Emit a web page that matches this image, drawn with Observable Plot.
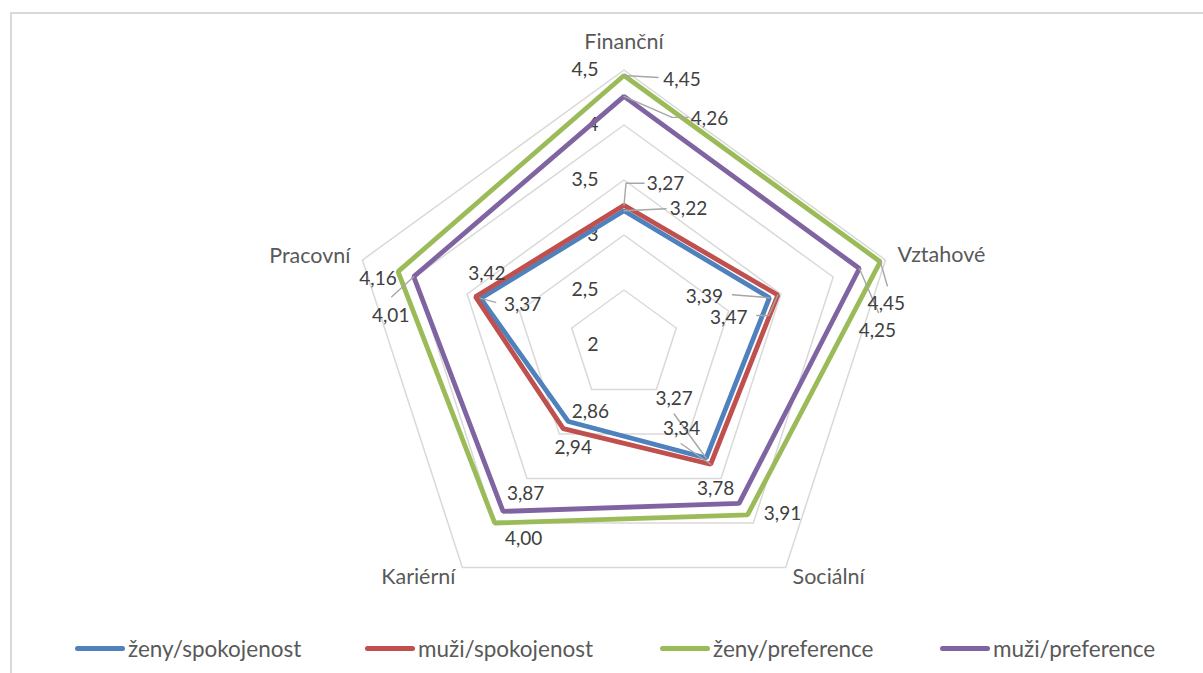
<!DOCTYPE html>
<html>
<head>
<meta charset="utf-8">
<script src="https://cdn.jsdelivr.net/npm/d3@7"></script>
<script src="https://cdn.jsdelivr.net/npm/@observablehq/plot@0.6"></script>
<style>
  html, body { margin: 0; padding: 0; background: #fff; }
  body { width: 1203px; height: 673px; position: relative; overflow: hidden; font-family: Lato, "Open Sans", sans-serif; }
  #frame { position: absolute; left: 10px; top: 12px; width: 1300px; height: 700px; border: 2px solid #d9d9d9; box-sizing: border-box; pointer-events: none; }
  #chart { position: absolute; left: 0; top: 0; }
  #legend { position: absolute; left: 0; top: 633px; width: 1203px; height: 30px; }
  .item { position: absolute; top: 0; height: 30px; display: flex; align-items: center; font-size: 22.5px; color: #595959; white-space: nowrap; }
  .swatch { width: 50px; height: 5px; border-radius: 3px; margin-right: 3px; }
</style>
</head>
<body>
<div id="chart"></div>
<div id="legend"></div>
<div id="frame"></div>
<script>
// Radar axes (clockwise from the top)
const categories = ["Finanční", "Vztahové", "Sociální", "Kariérní", "Pracovní"];

// Radial scale: minimum at the centre, rings every 0.5
const ticks = [2, 2.5, 3, 3.5, 4, 4.5];
const tickLabels = ["2", "2,5", "3", "3,5", "4", "4,5"];

// Series (order = drawing order)
const seriesNames = ["ženy/spokojenost", "muži/spokojenost", "ženy/preference", "muži/preference"];
const seriesColors = ["#4f81bd", "#c0504d", "#9bbb59", "#8064a2"];
const zenySpokojenost = [3.22, 3.39, 3.27, 2.86, 3.37];
const muziSpokojenost = [3.27, 3.47, 3.34, 2.94, 3.42];
const zenyPreference  = [4.45, 4.45, 3.91, 4.00, 4.16];
const muziPreference  = [4.26, 4.25, 3.78, 3.87, 4.01];
const seriesValues = [zenySpokojenost, muziSpokojenost, zenyPreference, muziPreference];

// ---- layout ----
const W = 1203, H = 620;
const cx = 623.5, cy = 344.5, k = 110;       // pixel centre and pixels per unit
const rMin = ticks[0];
const rMax = ticks[ticks.length - 1];
const legendX = [75, 365, 660, 940];

// label placement: [series][category] -> text offset in px, plus optional leader path
const labelLayout = [
  [ {d:[64.5,-2],  lead:[[0,0],[42,-2]]},
    {d:[-65,-1],   lead:[[0,0],[-37,-3]]},
    {d:[-32,-59.5],lead:[[0,0],[-32,-44]]},
    {d:[22,-10]},
    {d:[42,6],     lead:[[0,0],[15,4]]} ],
  [ {d:[41.5,-21], lead:[[0,0],[2,-22],[20,-22]]},
    {d:[-49,22.5], lead:[[0,0],[-9,20.5],[-21,20.5]]},
    {d:[-29,-35.7],lead:[[0,0],[-29.5,-20.5]]},
    {d:[10,19]},
    {d:[11.5,-23]} ],
  [ {d:[58,4],     lead:[[0,0],[34,2]]},
    {d:[6,42],     lead:[[0,0],[7,24]]},
    {d:[35,-1.5]},
    {d:[29,15.5]},
    {d:[-20,7]} ],
  [ {d:[85.5,23],  lead:[[0,0],[48,21],[64,21]]},
    {d:[18,62],    lead:[[0,0],[19,44]]},
    {d:[-23.5,-14]},
    {d:[22.5,-18]},
    {d:[-23,39],   lead:[[0,0],[-22,20]]} ]
];
// category label placement around the outer ring
const catLayout = [
  {anchor:"middle", dx:0,   dy:-27.5},
  {anchor:"start",  dx:12,  dy:-4.5},
  {anchor:"middle", dx:43,  dy:10},
  {anchor:"middle", dx:-44, dy:10},
  {anchor:"end",    dx:-12, dy:-3.5}
];

const angle = j => j * 2 * Math.PI / categories.length;
const px = (v, j) => (v - rMin) * Math.sin(angle(j));
const py = (v, j) => (v - rMin) * Math.cos(angle(j));
const fmt = v => v.toFixed(2).replace(".", ",");

// grid rings
const rings = [];
ticks.filter(t => t > rMin).forEach(t => categories.forEach((c, j) => rings.push({t, x: px(t, j), y: py(t, j)})));

// series polygons
const lines = [];
seriesValues.forEach((vals, i) => vals.forEach((v, j) => lines.push({s: seriesNames[i], i, x: px(v, j), y: py(v, j)})));

// data labels and leaders
const labels = [], leaders = [];
seriesValues.forEach((vals, i) => vals.forEach((v, j) => {
  const L = labelLayout[i][j];
  const x0 = px(v, j), y0 = py(v, j);
  labels.push({text: fmt(v), x: x0 + L.d[0] / k, y: y0 - L.d[1] / k});
  if (L.lead) L.lead.forEach(p => leaders.push({id: i + "-" + j, x: x0 + p[0] / k, y: y0 - p[1] / k}));
}));

const font = 'Lato, "Open Sans", sans-serif';

const plot = Plot.plot({
  width: W, height: H, margin: 0,
  style: {background: "transparent", fontFamily: font, overflow: "visible"},
  x: {domain: [-cx / k, (W - cx) / k], axis: null},
  y: {domain: [(cy - H) / k, cy / k], axis: null},
  marks: [
    Plot.line(rings, {x: "x", y: "y", z: "t", curve: "linear-closed", stroke: "#d9d9d9", strokeWidth: 1.5}),
    Plot.text(ticks, {x: () => 0, y: t => t - rMin, text: (t, i) => tickLabels[i], textAnchor: "end", dx: -25.5, fontSize: 19.5, fill: "#404040"}),
    ...seriesNames.map((s, i) => Plot.line(lines.filter(d => d.i === i), {x: "x", y: "y", curve: "linear-closed", stroke: seriesColors[i], strokeWidth: 4.8, strokeLinejoin: "miter"})),
    Plot.line(leaders, {x: "x", y: "y", z: "id", stroke: "#a6a6a6", strokeWidth: 1.4}),
    Plot.text(labels, {x: "x", y: "y", text: "text", fontSize: 19, fill: "#404040"}),
    ...categories.map((c, j) => Plot.text([c], {x: () => px(rMax, j), y: () => py(rMax, j), text: d => d, textAnchor: catLayout[j].anchor, dx: catLayout[j].dx, dy: catLayout[j].dy, fontSize: 21.5, fill: "#595959"}))
  ]
});
document.getElementById("chart").appendChild(plot);

// legend
const legend = document.getElementById("legend");
seriesNames.forEach((s, i) => {
  const item = document.createElement("div");
  item.className = "item";
  item.style.left = legendX[i] + "px";
  const sw = document.createElement("span");
  sw.className = "swatch";
  sw.style.background = seriesColors[i];
  const tx = document.createElement("span");
  tx.textContent = s;
  item.append(sw, tx);
  legend.append(item);
});
</script>
</body>
</html>
